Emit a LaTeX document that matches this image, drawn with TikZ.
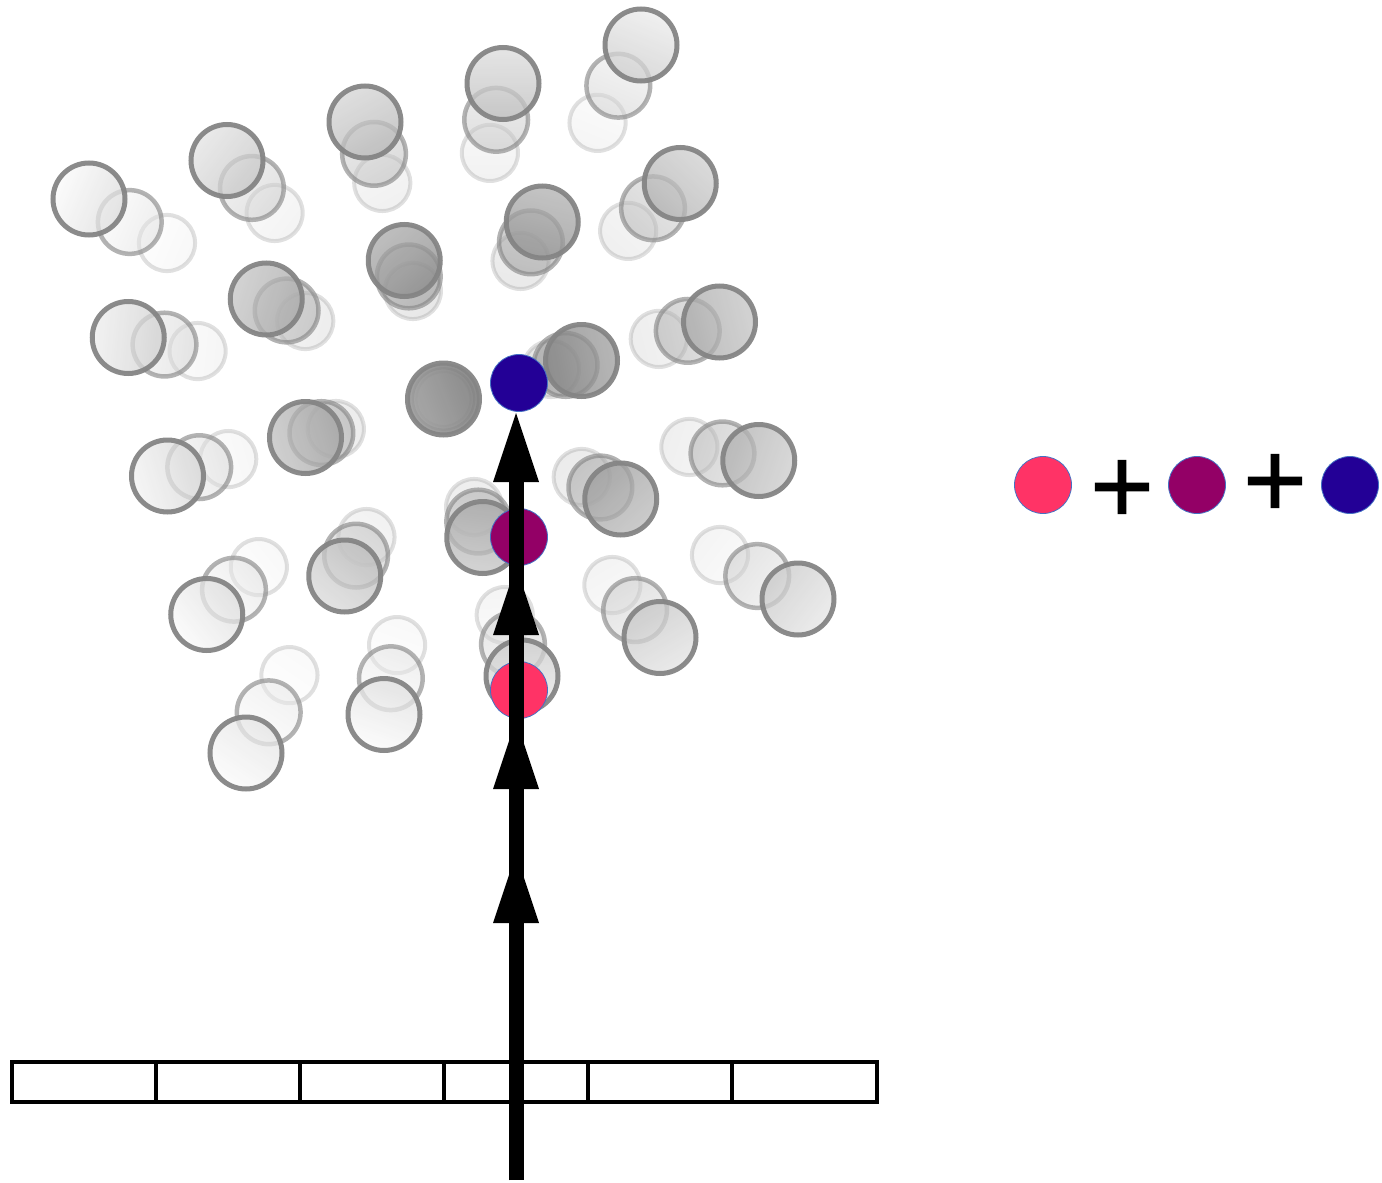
\documentclass[tikz,border=0pt]{standalone}
\usepackage{fontspec}
\usetikzlibrary{arrows.meta}
\newfontfamily\plusfont[FakeBold=2]{DejaVu Sans}
\definecolor{cpink}{HTML}{FF3366}
\definecolor{cpurple}{HTML}{930066}
\definecolor{cblue}{HTML}{230096}
\definecolor{cedge}{HTML}{4472C4}
\definecolor{ringgray}{HTML}{858585}
\tikzset{
  dot/.style={circle, draw=cedge, line width=0.8pt, minimum size=57pt, inner sep=0pt},
  plussign/.style={font=\plusfont\fontsize{84}{84}\selectfont, inner sep=0pt},
  cell/.style={line width=4pt, line join=miter},
  shaft/.style={line width=15pt},
  flow/.style={line width=15pt, -{Triangle[width=46pt,length=69pt,line width=0pt]}},
}
% one group of three rings: row i, column j, darkness k
\newcommand\ringgroup[3]{%
  \pgfmathsetmacro\gx{641-138*#1+39.25*#2}%
  \pgfmathsetmacro\gy{45+38.5*#1+138.5*#2}%
  \pgfmathsetmacro\gang{atan2(\gy-375,505-\gx)-90}%
  \pgfmathtruncatemacro\kin{1.2*#3+6}%
  \pgfmathtruncatemacro\kout{max(1.2*#3-6,2)}%
  \foreach \s/\op/\sop/\lw in {0.78/0.2/0.25/4, 0.885/0.5/0.62/4.5, 1/0.75/0.95/5} {
    \pgfmathsetmacro\cx{443.5+\s*(\gx-443.5)}%
    \pgfmathsetmacro\cy{399+\s*(\gy-399)}%
    \pgfmathsetmacro\rr{36*\s}%
    \shade[top color=black!\kin, bottom color=black!\kout, shading angle=\gang, fill opacity=\op] (\cx,\cy) circle[radius=\rr pt];
    \draw[ringgray, draw opacity=\sop, line width=\lw pt] (\cx,\cy) circle[radius=\rr pt];
  }%
}
\begin{document}
\begin{tikzpicture}[x=1pt,y=-1pt]
\useasboundingbox (0,0) rectangle (1382,1183);
% swirl of grey rings
\foreach \i/\j/\k in {0/0/12,1/0/17,2/0/20,3/0/15,4/0/7,
                      0/1/21,1/1/31,2/1/34,3/1/25,4/1/11,
                      0/2/25,1/2/37,2/2/37,3/2/26,4/2/10,
                      0/3/22,1/3/28,2/3/25,3/3/18,4/3/7,
                      0/4/14,1/4/15,2/4/13,3/4/6,4/4/5} {\ringgroup{\i}{\j}{\k}}
% bar of cells
\draw[cell] (12,1062) rectangle (877,1102);
\foreach \x in {156,300,444,588,732} \draw[cell] (\x,1062) -- (\x,1102);
% coloured points on the arrow
\node[dot, fill=cpink] (p1) at (519,690) {};
\node[dot, fill=cpurple] (p2) at (519,537) {};
\node[dot, fill=cblue] (p3) at (519,383) {};
% arrow
\coordinate (a0) at (516,1180);
\coordinate (a1) at (516,854);
\coordinate (a2) at (516,720);
\coordinate (a3) at (516,566);
\coordinate (a4) at (516,413);
\coordinate (a5) at (516,450);
\draw[shaft] (a0) -- (a5);
\draw[flow] (a0) -- (a1);
\draw[flow] (a1) -- (a2);
\draw[flow] (a2) -- (a3);
\draw[flow] (a3) -- (a4);
% legend
\node[dot, fill=cpink] (l1) at (1043,485) {};
\node[plussign] (s1) at (1122,487) {+};
\node[dot, fill=cpurple] (l2) at (1197,485) {};
\node[plussign] (s2) at (1275,481) {+};
\node[dot, fill=cblue] (l3) at (1350,485) {};
\end{tikzpicture}
\end{document}
